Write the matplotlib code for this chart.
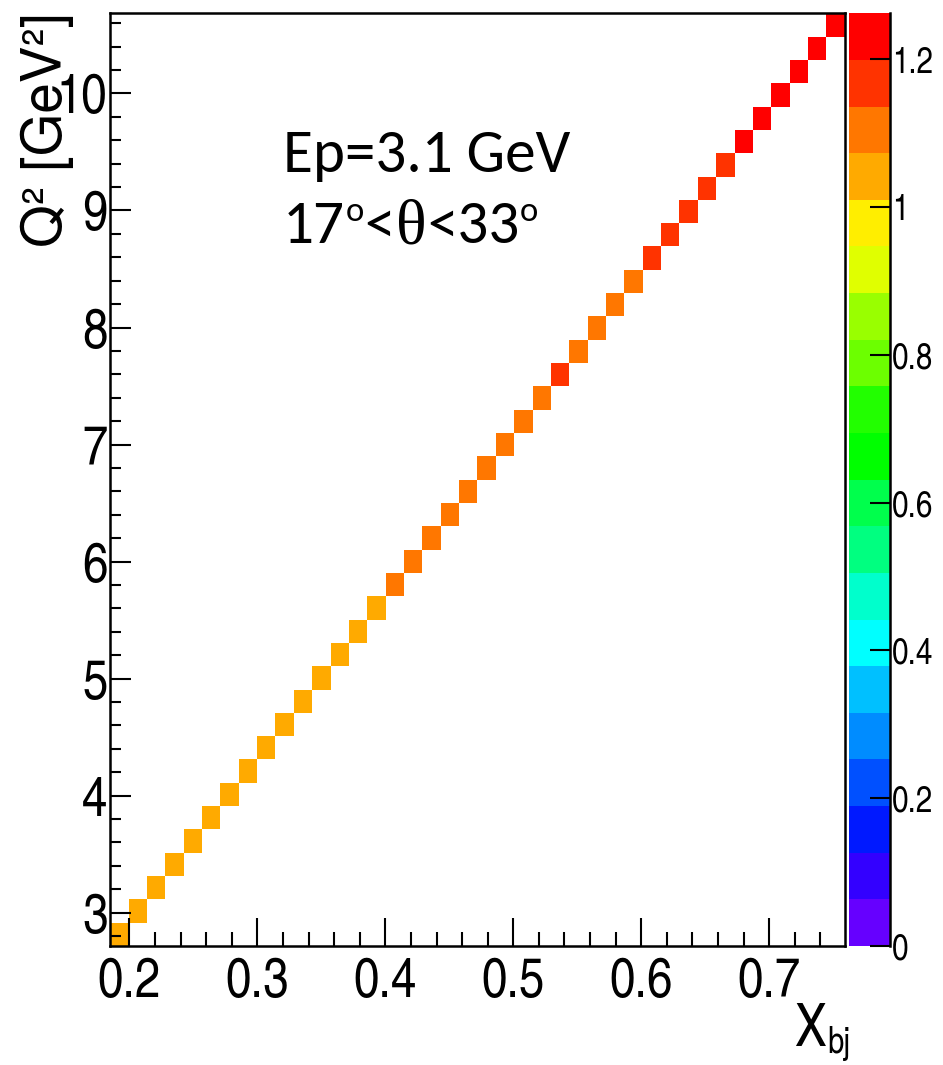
import numpy as np
import matplotlib
matplotlib.use("Agg")
import matplotlib.pyplot as plt
from matplotlib.colors import ListedColormap, BoundaryNorm

# ---------------- data ----------------
x_bj = [0.192, 0.207, 0.221, 0.235, 0.250, 0.264, 0.278, 0.293, 0.307, 0.321,
        0.336, 0.350, 0.364, 0.379, 0.393, 0.407, 0.422, 0.436, 0.450, 0.465,
        0.479, 0.494, 0.508, 0.522, 0.537, 0.551, 0.565, 0.580, 0.594, 0.608,
        0.623, 0.637, 0.651, 0.666, 0.680, 0.694, 0.709, 0.723, 0.737, 0.752]
q2 = [2.8, 3.0, 3.2, 3.4, 3.6, 3.8, 4.0, 4.2, 4.4, 4.6,
      4.8, 5.0, 5.2, 5.4, 5.6, 5.8, 6.0, 6.2, 6.4, 6.6,
      6.8, 7.0, 7.2, 7.4, 7.6, 7.8, 8.0, 8.2, 8.4, 8.6,
      8.8, 9.0, 9.2, 9.4, 9.6, 9.8, 10.0, 10.2, 10.4, 10.6]
ratio = [1.02, 1.03, 1.03, 1.04, 1.04, 1.03, 1.04, 1.05, 1.04, 1.05,
         1.05, 1.04, 1.05, 1.06, 1.06, 1.09, 1.10, 1.10, 1.11, 1.10,
         1.11, 1.12, 1.11, 1.12, 1.15, 1.12, 1.12, 1.13, 1.13, 1.16,
         1.16, 1.17, 1.18, 1.18, 1.21, 1.22, 1.23, 1.23, 1.24, 1.262]

x_range = (0.185, 0.759)
q2_range = (2.715, 10.685)
n_bins = 40

x_ticks = [0.2, 0.3, 0.4, 0.5, 0.6, 0.7]
x_tick_labels = ["0.2", "0.3", "0.4", "0.5", "0.6", "0.7"]
y_ticks = [3, 4, 5, 6, 7, 8, 9, 10]
y_tick_labels = ["3", "4", "5", "6", "7", "8", "9", "10"]
z_ticks = [0, 0.2, 0.4, 0.6, 0.8, 1.0, 1.2]
z_tick_labels = ["0", "0.2", "0.4", "0.6", "0.8", "1", "1.2"]

palette = ["#6600FF", "#3300FF", "#0019FF", "#0050FF", "#008CFF",
           "#00C0FF", "#00FFFF", "#00FFCC", "#00FF80", "#00FF4C",
           "#00FF00", "#22FF00", "#6CFF00", "#99FF00", "#E0FF00",
           "#FFEE00", "#FFAA00", "#FF7700", "#FF3300", "#FF0000"]

# ---------------- figure ----------------
W, Hh = 943, 1065
fig = plt.figure(figsize=(W / 100, Hh / 100), dpi=100)
fig.patch.set_facecolor("white")

L, R, T, B = 110.2, 844.7, 13.3, 946.0
ax = fig.add_axes([L / W, 1 - B / Hh, (R - L) / W, (B - T) / Hh])
cax = fig.add_axes([848.5 / W, 1 - B / Hh, (889.5 - 848.5) / W, (B - T) / Hh])

narrow = ["TeX Gyre Heros Cn", "Liberation Sans", "DejaVu Sans"]
regular = ["TeX Gyre Heros", "Liberation Sans", "DejaVu Sans"]

H, xe, ye = np.histogram2d(x_bj, q2, bins=n_bins, range=[x_range, q2_range], weights=ratio)
Hm = np.ma.masked_where(H == 0, H)
zmax = max(ratio)
levels = np.linspace(0, zmax, len(palette) + 1)
cmap = ListedColormap(palette)
cmap.set_over(palette[-1])
norm = BoundaryNorm(levels, cmap.N)
mesh = ax.pcolormesh(xe, ye, Hm.T, cmap=cmap, norm=norm, antialiased=False,
                     edgecolors="none")

ax.set_xlim(*x_range)
ax.set_ylim(*q2_range)
lw = 1.8
for s in ax.spines.values():
    s.set_linewidth(lw)

ax.set_xticks(x_ticks)
ax.set_xticklabels(x_tick_labels, fontfamily=narrow, fontsize=40)
ax.set_yticks(y_ticks)
ax.set_yticklabels(y_tick_labels, fontfamily=narrow, fontsize=40)
ax.xaxis.set_minor_locator(matplotlib.ticker.MultipleLocator(0.02))
ax.yaxis.set_minor_locator(matplotlib.ticker.MultipleLocator(0.2))
ax.tick_params(axis="x", which="major", direction="in", length=20, width=1.5, pad=8)
ax.tick_params(axis="x", which="minor", direction="in", length=10, width=1.5)
ax.tick_params(axis="y", which="major", direction="in", length=15, width=1.5, pad=2)
ax.tick_params(axis="y", which="minor", direction="in", length=8, width=1.5)
ax.tick_params(top=False, right=False, which="both")

# colorbar
cb = fig.colorbar(mesh, cax=cax, ticks=z_ticks)
cb.outline.set_visible(False)
cax.set_yticklabels(z_tick_labels, fontfamily=narrow, fontsize=26)
cax.yaxis.set_ticks_position("right")
cax.tick_params(axis="y", which="major", direction="in", length=14.5, width=1.5, pad=2)
cax.minorticks_off()
cax.spines["right"].set_visible(True)
cax.spines["right"].set_linewidth(lw)
cax.set_ylim(0, zmax)

# axis titles
fig.text(47 / W, 1 - 12 / Hh, "Q² [GeV²]", rotation=90, ha="center", va="top",
         fontsize=39.5, fontfamily=regular)
fig.text(826 / W, 1 - 1046 / Hh, "X", ha="right", va="baseline",
         fontsize=42, fontfamily=narrow)
fig.text(827 / W, 1 - 1053 / Hh, "bj", ha="left", va="baseline",
         fontsize=26, fontfamily=narrow)

# annotation
FS = 44
ann_font = ["Carlito", "Lato", "DejaVu Sans"]
fig.text(283 / W, 1 - 172 / Hh, "Ep=3.1 GeV", ha="left", va="baseline",
         fontsize=FS, fontfamily=ann_font)
y0 = 1 - 243 / Hh
t = fig.text(283 / W, y0, "17", ha="left", va="baseline", fontsize=FS, fontfamily=ann_font)
pieces = [("o", 25, ann_font, 16, 0.5),
          ("<", FS, ann_font, 0, 0.5),
          ("θ", 46, ["Liberation Serif", "DejaVu Serif"], 0, 0.5),
          ("<33", FS, ann_font, 0, 0.5),
          ("o", 25, ann_font, 16, 0.5)]
prev = t
for txt, fs, fam, dy, dx in pieces:
    prev = ax.annotate(txt, xy=(1, y0), xycoords=(prev, "figure fraction"),
                       xytext=(dx, dy), textcoords="offset points",
                       ha="left", va="baseline", fontsize=fs, fontfamily=fam,
                       annotation_clip=False)

fig.savefig("out.png", dpi=100, facecolor="white")
